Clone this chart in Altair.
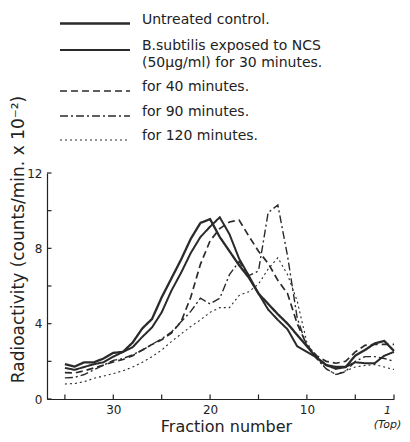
import altair as alt
import pandas as pd

# fraction numbers (35 = bottom of gradient, 1 = top)
fractions = list(range(35, 0, -1))

# Radioactivity (counts/min x 10^-2), fraction 35 -> 1
control = [1.85, 1.72, 1.95, 1.95, 2.15, 2.45, 2.5, 3.0, 3.75, 4.25, 5.4, 6.4,
           7.4, 8.5, 9.35, 9.55, 8.6, 7.85, 7.1, 6.45, 5.6, 5.05, 4.5, 4.0,
           3.4, 2.8, 2.2, 1.8, 1.7, 1.7, 2.3, 2.6, 2.95, 3.08, 2.55]
min30 = [1.65, 1.55, 1.7, 1.85, 1.95, 2.25, 2.5, 2.75, 3.3, 3.8, 4.6, 5.75,
         6.7, 7.75, 8.6, 9.15, 9.65, 8.75, 7.45, 6.55, 5.6, 4.75, 4.2, 3.7,
         2.8, 2.5, 2.2, 1.8, 1.6, 1.7, 1.95, 1.9, 1.9, 2.3, 2.5]
min40 = [1.4, 1.38, 1.5, 1.65, 1.8, 1.97, 2.1, 2.3, 2.6, 2.9, 3.15, 3.5,
         4.1, 5.4, 7.15, 8.4, 9.05, 9.4, 9.5, 8.65, 7.85, 7.2, 6.3, 5.6,
         4.0, 2.85, 2.3, 2.0, 1.9, 2.0, 2.5, 2.85, 2.9, 2.9, 2.9]
min90 = [1.12, 1.15, 1.3, 1.55, 1.8, 2.05, 2.15, 2.35, 2.6, 2.9, 3.2, 3.55,
         4.1, 4.65, 5.35, 5.05, 5.35, 6.6, 7.3, 6.55, 6.8, 9.9, 10.3, 7.6,
         4.3, 2.8, 2.15, 1.6, 1.3, 1.45, 2.0, 2.25, 2.25, 2.15, 2.0]
min120 = [0.8, 0.82, 0.92, 1.1, 1.22, 1.35, 1.5, 1.7, 1.95, 2.25, 2.6, 3.05,
          3.45, 3.85, 4.2, 4.6, 4.85, 4.85, 5.5, 5.7, 6.1, 6.9, 7.5, 6.6,
          5.2, 3.0, 2.2, 1.6, 1.3, 1.5, 1.7, 1.78, 1.83, 1.7, 1.57]

series_names = [
    "Untreated control.",
    "B.subtilis exposed to NCS|\u00a0\u00a0\u00a0(50\u00b5g/ml) for 30 minutes.",
    "\u00a0for 40 minutes.",
    "\u00a0for 90 minutes.",
    "\u00a0for 120 minutes.",
]
series_values = [control, min30, min40, min90, min120]

x_tick_values = [35, 30, 25, 20, 15, 10, 5, 1]
x_label_values = [30, 20, 10, 1]
y_tick_values = [0, 2, 4, 6, 8, 10, 12]
y_label_values = [0, 4, 8, 12]

dashes = [[1, 0], [1, 0], [7, 4], [8, 3, 2, 3], [2, 3]]
widths = [2.3, 1.1, 1.1, 1.1, 1.3]

rows = []
for name, vals in zip(series_names, series_values):
    for f, v in zip(fractions, vals):
        rows.append({"fraction": f, "value": v, "series": name})
df = pd.DataFrame(rows)

ink = "#2a2a2a"

# legend key: a long horizontal stroke (custom path, scaled by sqrt(symbolSize)/2)
leg = alt.Legend(
    title=None, orient="none", legendX=36.5, legendY=-161, direction="vertical",
    symbolType="M-3.5,0H3.5", symbolSize=400, symbolStrokeColor=ink,
    symbolFillColor="transparent",
    labelFontSize=14, labelFont="DejaVu Sans", labelColor="#222",
    labelBaseline="alphabetic", labelOffset=35.5, labelLimit=400,
    rowPadding=10, padding=0, labelExpr="split(datum.label, '|')",
)

xscale = alt.Scale(domain=[1, 36.85], reverse=True, nice=False, zero=False)
yscale = alt.Scale(domain=[0, 12], nice=False)

lines = alt.Chart(df).mark_line(color=ink).encode(
    x=alt.X("fraction:Q", scale=xscale, title="Fraction number",
            axis=alt.Axis(values=x_label_values, ticks=False, tickSize=0, grid=False,
                          labelExpr="datum.value == 1 ? ['\u00a0\u00a0\u00a01', '(Top)'] : datum.label",
                          labelOffset={"condition": {"test": "datum.value == 1", "value": -7}, "value": 0},
                          labelFontSize={"condition": {"test": "datum.value == 1", "value": 11}, "value": 12},
                          labelFontStyle={"condition": {"test": "datum.value == 1", "value": "italic"}, "value": "normal"},
                          labelFlush=False, labelPadding=5,
                          labelLineHeight=14, labelColor="#222",
                          domainColor="#222", domainWidth=1.2,
                          titleFontSize=16, titleFontWeight="normal", titleColor="#222",
                          titleX=179, titleY=32, titleAlign="center",
                          titleBaseline="alphabetic")),
    y=alt.Y("value:Q", scale=yscale, title="Radioactivity (counts/min. x 10\u207b\u00b2)",
            axis=alt.Axis(values=y_label_values, ticks=False, tickSize=0, grid=False,
                          labelFontSize=12, labelPadding=5, labelColor="#222",
                          domainColor="#222", domainWidth=1.2,
                          titleFontSize=17, titleFontWeight="normal", titleColor="#222",
                          titleAngle=270, titleX=-24, titleY=66, titleAlign="center",
                          titleBaseline="alphabetic")),
    strokeDash=alt.StrokeDash("series:N", scale=alt.Scale(domain=series_names, range=dashes),
                              legend=leg),
    strokeWidth=alt.StrokeWidth("series:N", scale=alt.Scale(domain=series_names, range=widths),
                                legend=leg),
)

xticks = alt.Chart(pd.DataFrame({"fraction": x_tick_values})).mark_rule(
    color="#222", strokeWidth=1.2).encode(
    x=alt.X("fraction:Q", scale=xscale),
    y=alt.value(226), y2=alt.value(221.5))

yticks = alt.Chart(pd.DataFrame({"value": y_tick_values})).mark_rule(
    color="#222", strokeWidth=1.2).encode(
    y=alt.Y("value:Q", scale=yscale),
    x=alt.value(0), x2=alt.value(4.5))

chart = alt.layer(lines, xticks, yticks).properties(
    width=347, height=226,
    autosize=alt.AutoSizeParams(type="none"),
    padding={"left": 39, "top": 165, "right": 8, "bottom": 35},
).configure(font="DejaVu Sans", style={"guide-label": {"lineHeight": 17}}).configure_view(
    strokeWidth=0)

chart.save("out.html", embed_options={"renderer": "svg", "actions": False})
